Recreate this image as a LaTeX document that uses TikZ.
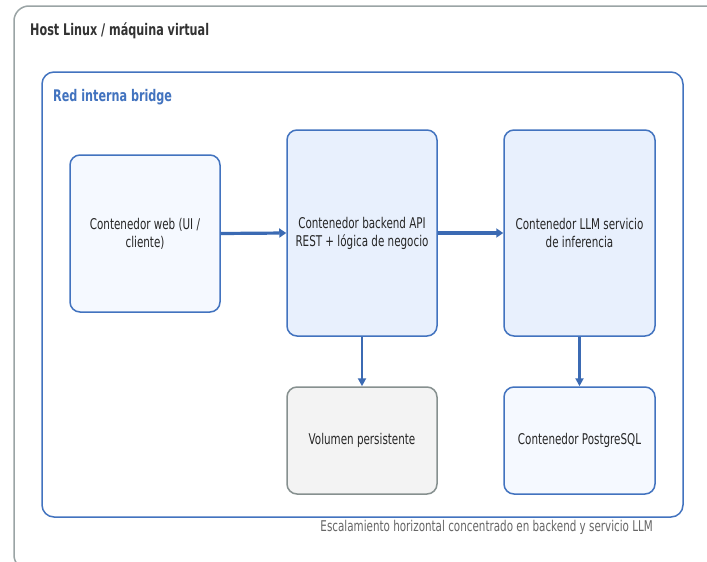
\documentclass[tikz,border=0pt]{standalone}
\usepackage{fontspec}
\setmainfont{DejaVu Sans}[FakeStretch=0.7]
\usetikzlibrary{arrows.meta}
\definecolor{outerc}{HTML}{9AA4A5}
\definecolor{bluec}{HTML}{4273BF}
\definecolor{arrowc}{HTML}{3B6AB3}
\definecolor{lightf}{HTML}{F5F9FF}
\definecolor{midf}{HTML}{E8F0FD}
\definecolor{grayf}{HTML}{F3F3F3}
\definecolor{grayb}{HTML}{86908F}
\definecolor{titlec}{HTML}{333333}
\definecolor{notec}{HTML}{666666}
\tikzset{
  box/.style={draw=bluec, line width=1.5pt, rounded corners=10pt, align=center,
    text=black!85, font=\fontsize{14.8}{18}\selectfont, inner sep=0pt},
  lightbox/.style={box, fill=lightf},
  midbox/.style={box, fill=midf},
  graybox/.style={box, fill=grayf, draw=grayb},
  harrow/.style={draw=arrowc, line width=3.2pt, -{Triangle[length=7pt,width=9pt]}},
  varrow/.style={draw=arrowc, line width=2.2pt, -{Triangle[length=8pt,width=8pt]}},
  lbl/.style={anchor=west, inner sep=0pt}
}
\begin{document}
\begin{tikzpicture}[x=1pt,y=-1pt]
\useasboundingbox (0,0) rectangle (707,562);
\fill[white] (0,0) rectangle (707,562);
\begin{scope}
\clip (0,0) rectangle (707,562);
\draw[outerc, line width=1.5pt, rounded corners=15pt] (14,6) rectangle (740,570);
\end{scope}
\node[lbl, text=titlec, font=\fontsize{16}{18}\selectfont\bfseries] (host) at (30,31) {Host Linux / máquina virtual};
\draw[bluec, line width=1.5pt, rounded corners=12pt] (42,72) rectangle (683,517);
\node[lbl, text=bluec, font=\fontsize{16}{18}\selectfont\bfseries] (red) at (53,97) {Red interna bridge};

\node[lightbox, minimum width=150pt, minimum height=157pt] (web) at (145,233.5) {Contenedor web (UI /\\cliente)};
\node[midbox, minimum width=150pt, minimum height=206pt] (api) at (362,233) {Contenedor backend API\\REST + lógica de negocio};
\node[midbox, minimum width=151pt, minimum height=206pt] (llm) at (579.5,233) {Contenedor LLM servicio\\de inferencia};
\node[graybox, minimum width=150pt, minimum height=107pt] (vol) at (362,440.5) {Volumen persistente};
\node[lightbox, minimum width=151pt, minimum height=107pt] (pg) at (579.5,440.5) {Contenedor PostgreSQL};

\draw[harrow] (web.east) -- (api.west);
\draw[harrow] (api.east) -- (llm.west);
\draw[varrow] (api.south) -- (vol.north);
\draw[varrow] (llm.south) -- (pg.north);

\node[anchor=east, inner sep=0pt, text=notec, font=\fontsize{14.8}{16}\selectfont] (note) at (653,527) {Escalamiento horizontal concentrado en backend y servicio LLM};
\end{tikzpicture}
\end{document}
